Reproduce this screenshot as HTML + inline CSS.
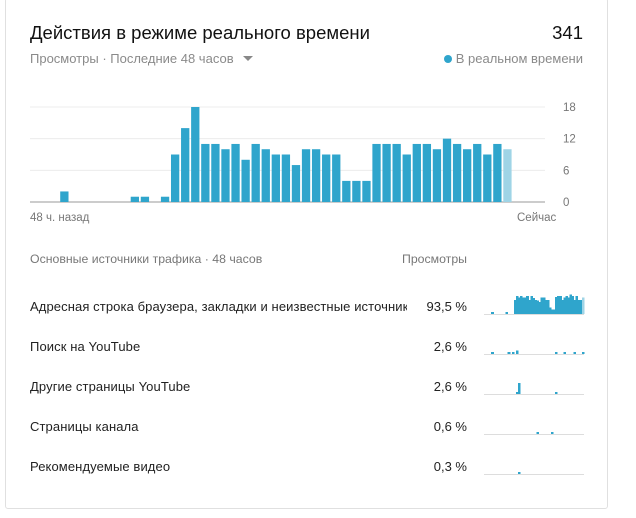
<!DOCTYPE html>
<html><head><meta charset="utf-8"><style>
body{margin:0;width:636px;height:518px;background:#fff;font-family:"Liberation Sans","Noto Sans CJK SC",sans-serif;position:relative;overflow:hidden}
.card{position:absolute;left:5px;top:-2px;width:603px;height:511px;border:1px solid #e0e0e0;border-radius:3px;box-sizing:border-box}
.t{position:absolute;white-space:nowrap}
</style></head><body>
<div class="card"></div>
<div class="t" style="left:30px;top:22px;font-size:18.5px;color:#111">Действия в режиме реального времени</div>
<div class="t" style="right:53px;top:22px;font-size:18.5px;color:#111">341</div>
<div class="t" style="left:30px;top:51px;font-size:13px;color:#8a8a8a">Просмотры · Последние 48 часов <span style="display:inline-block;width:0;height:0;border-left:5px solid transparent;border-right:5px solid transparent;border-top:5px solid #888;margin-left:6px;vertical-align:2px"></span></div>
<div class="t" style="right:53px;top:51px;font-size:13px;color:#8a8a8a"><span style="display:inline-block;width:8px;height:8px;border-radius:50%;background:#2fa5cc;margin-right:4px"></span>В реальном времени</div>
<svg id="main" width="636" height="230" style="position:absolute;left:0;top:0"></svg>
<div class="t" style="left:30px;top:212px;font-size:11.5px;color:#777">48 ч. назад</div>
<div class="t" style="left:517px;top:212px;font-size:11.5px;color:#777">Сейчас</div>
<div class="t" style="left:30px;top:252px;font-size:12.3px;color:#777">Основные источники трафика · 48 часов</div>
<div class="t" style="right:169px;top:252px;font-size:12.3px;color:#777">Просмотры</div>
<div id="rows"></div>
<svg id="spark" width="636" height="518" style="position:absolute;left:0;top:0;pointer-events:none" shape-rendering="crispEdges"></svg>
<script>
const hours=[0,0,0,2,0,0,0,0,0,0,1,1,0,1,9,14,18,11,11,10,11,8,11,10,9,9,7,10,10,9,9,4,4,4,11,11,11,9,11,11,10,12,11,10,11,9,11,10];
const yTicks=[0,6,12,18];
const sources=["Адресная строка браузера, закладки и неизвестные источники","Поиск на YouTube","Другие страницы YouTube","Страницы канала","Рекомендуемые видео"];
const shares=["93,5 %","2,6 %","2,6 %","0,6 %","0,3 %"];
const spark1=[0,0,0,1,0,0,0,0,0,0,1,0,0,0,9.5,12,11,12,11,11,12,9.5,12,10.7,9.5,9,8,11,11,9.5,9.5,4.5,3,3,11.5,12,12,9.5,11,12,11,13,12,9.5,12,9.5,9.5,11];
const spark2=[0,0,0,1,0,0,0,0,0,0,0,1,0,1,0,2.5,0,0,0,0,0,0,0,0,0,0,0,0,0,0,0,0,0,0,1,0,0,0,1,0,0,0,0,1,0,0,0,1];
const spark3=[0,0,0,0,0,0,0,0,0,0,0,0,0,0,0,1,7.5,0,0,0,0,0,0,0,0,0,0,0,0,0,0,0,0,0,1,0,0,0,0,0,0,0,0,0,0,0,0,0];
const spark4=[0,0,0,0,0,0,0,0,0,0,0,0,0,0,0,0,0,0,0,0,0,0,0,0,0,1,0,0,0,0,0,0,1,0,0,0,0,0,0,0,0,0,0,0,0,0,0,0];
const spark5=[0,0,0,0,0,0,0,0,0,0,0,0,0,0,0,0,1,0,0,0,0,0,0,0,0,0,0,0,0,0,0,0,0,0,0,0,0,0,0,0,0,0,0,0,0,0,0,0];
const NS="http://www.w3.org/2000/svg";
function mk(p,tag,a){const e=document.createElementNS(NS,tag);for(const k in a)e.setAttribute(k,a[k]);p.appendChild(e);return e;}
const main=document.getElementById('main');
const x0=30,slot=10.07,y0=202,yMax=18,ph=95;
const yS=v=>y0-v/yMax*ph, xS=i=>x0+i*slot;
yTicks.forEach(t=>{
  const g=mk(main,'line',{x1:30,x2:545,y1:yS(t),y2:yS(t),stroke:t===0?'#999':'#ececec','stroke-width':1});
  
  
  const tx=mk(main,'text',{x:563,y:yS(t)+4,'font-size':11.5,fill:'#777','font-family':'Liberation Sans, sans-serif'});
  tx.textContent=t;
  
  
});
hours.forEach((v,i)=>{
  if(!v)return;
  const r=mk(main,'rect',{x:xS(i),y:yS(v),width:8.3,height:y0-yS(v),fill:i===hours.length-1?'#9fd4e6':'#2fa5cc'});
  
  
});
const rows=document.getElementById('rows');
const sp=document.getElementById('spark');
const sparks=[spark1,spark2,spark3,spark4,spark5];
sources.forEach((s,k)=>{
  const top=299+k*40;
  const d=document.createElement('div');
  d.className='t';
  d.style.cssText=`left:30px;top:${top}px;font-size:13px;letter-spacing:0.1px;color:#222;width:377px;overflow:hidden`;
  d.textContent=s;
  
  
  rows.appendChild(d);
  const p=document.createElement('div');
  p.className='t';
  p.style.cssText=`right:169px;top:${top}px;font-size:13px;color:#222`;
  p.textContent=shares[k];
  
  
  rows.appendChild(p);
  const base=314+k*40;
  const bl=mk(sp,'line',{x1:484,x2:584,y1:base+0.5,y2:base+0.5,stroke:'#ddd'});
  
  
  sparks[k].forEach((v,i)=>{
    if(!v)return;
    const h=Math.max(2,v*1.5);
    const r=mk(sp,'rect',{x:485+i*2.06,y:base-h,width:2.6,height:h,fill:(k===0&&i===47)?'#9fd4e6':'#2fa5cc'});
    
    
  });
});
</script>
</body></html>
